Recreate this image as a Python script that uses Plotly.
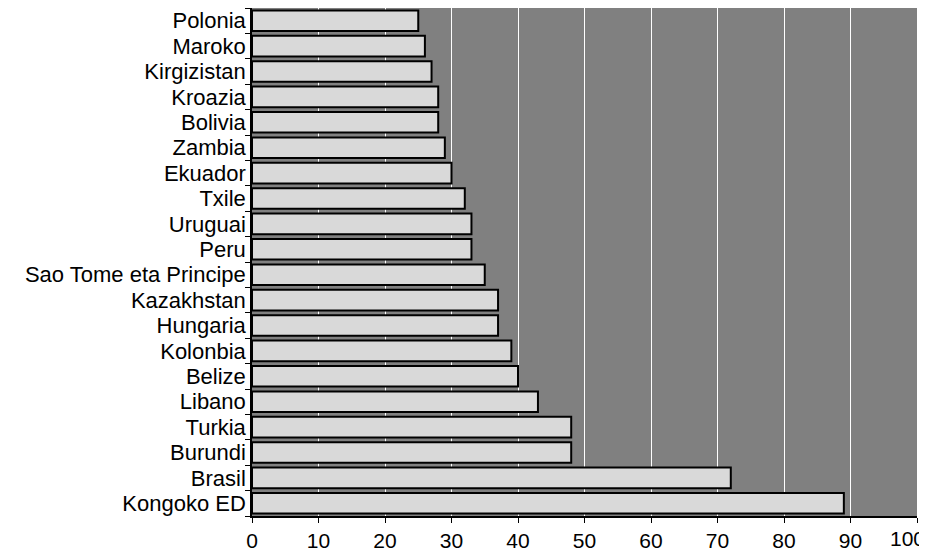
import plotly.graph_objects as go

countries = ["Polonia", "Maroko", "Kirgizistan", "Kroazia", "Bolivia", "Zambia", "Ekuador",
             "Txile", "Uruguai", "Peru", "Sao Tome eta Principe", "Kazakhstan", "Hungaria",
             "Kolonbia", "Belize", "Libano", "Turkia", "Burundi", "Brasil", "Kongoko ED"]
values = [25, 26, 27, 28, 28, 29, 30, 32, 33, 33, 35, 37, 37, 39, 40, 43, 48, 48, 72, 89]
x_ticks = [0, 10, 20, 30, 40, 50, 60, 70, 80, 90, 100]
x_labels = ["0", "10", "20", "30", "40", "50", "60", "70", "80", "90", ""]

fig = go.Figure(go.Bar(
    x=values, y=countries, orientation="h",
    marker=dict(color="#d9d9d9", line=dict(color="black", width=2)),
))

# page body has an 8px margin, so the figure is offset by (8, 8)
fig.update_layout(
    width=919, height=544,
    margin=dict(l=244, r=10, t=0, b=36),
    paper_bgcolor="white", plot_bgcolor="#808080",
    bargap=0.19, showlegend=False,
    font=dict(family="Liberation Sans, Arial, sans-serif", size=22, color="black"),
    annotations=[dict(text="100", x=100, xref="x", xanchor="right", xshift=10, y=0, yref="paper",
                      yanchor="top", yshift=-9, showarrow=False, font=dict(size=21))],
)
fig.update_xaxes(
    range=[0, 100], tickvals=x_ticks, ticktext=x_labels, showgrid=True, gridcolor="white",
    gridwidth=1, showline=True, linecolor="black", linewidth=1.5, ticks="outside", ticklen=5,
    tickcolor="black", zeroline=False, tickfont=dict(size=21), automargin=False,
)
fig.update_yaxes(
    autorange="reversed", showgrid=False, showline=True, linecolor="black", linewidth=1.5,
    ticks="outside", ticklen=5, tickcolor="black", tickson="boundaries",
    tickmode="array", tickvals=countries, ticktext=countries,
    tickfont=dict(size=22), automargin=False,
)

fig.write_html("out.html")
